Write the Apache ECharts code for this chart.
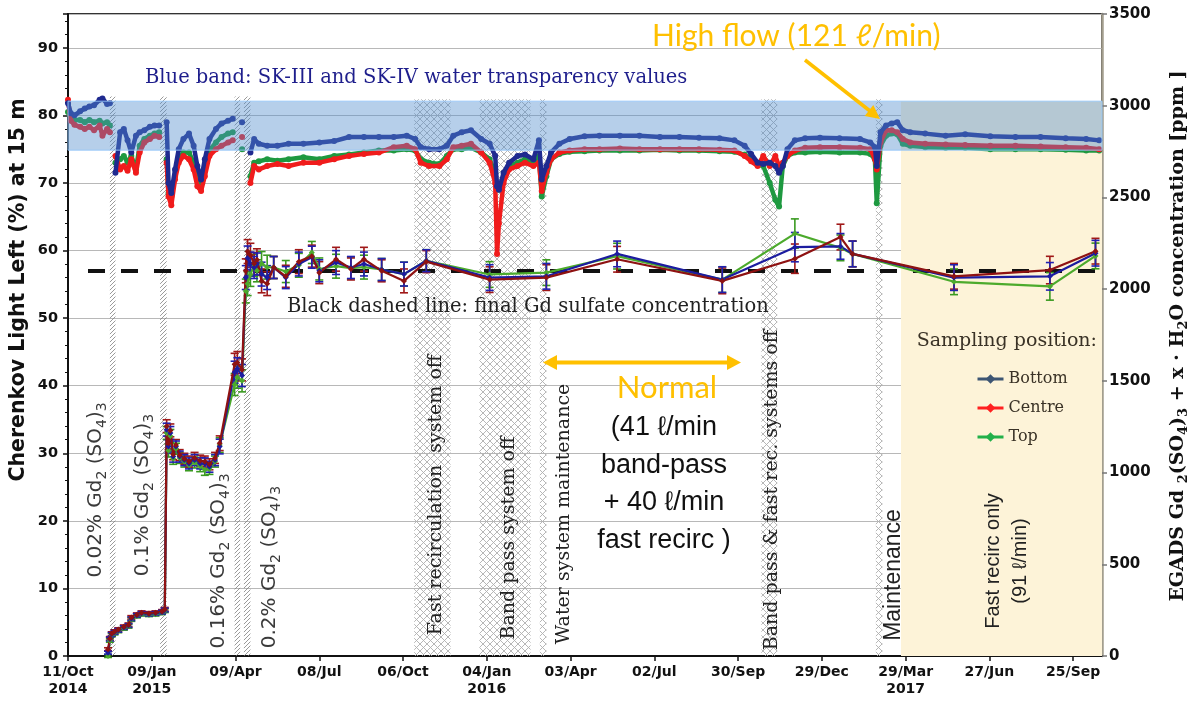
<!DOCTYPE html>
<html>
<head>
<meta charset="utf-8">
<script src="https://cdn.jsdelivr.net/npm/echarts@6/dist/echarts.min.js"></script>
<style>
  html, body { margin: 0; padding: 0; background: #ffffff; }
  #chart { width: 1194px; height: 702px; }
</style>
</head>
<body>
<div id="chart"></div>
<script>
// ---------------------------------------------------------------------------
// Data
// ---------------------------------------------------------------------------

// x axis: one tick every 90 days starting 11 Oct 2014
const xTickLabels = ['11/Oct\n2014', '09/Jan\n2015', '09/Apr', '08/Jul', '06/Oct', '04/Jan\n2016',
  '03/Apr', '02/Jul', '30/Sep', '29/Dec', '29/Mar\n2017', '27/Jun', '25/Sep'];

// EGADS Gd2(SO4)3 concentration samples [ppm]
const sampleDates = [
  '2014-11-23', '2014-11-25', '2014-11-27', '2014-11-30', '2014-12-04', '2014-12-10', '2014-12-15',
  '2014-12-18', '2014-12-24', '2014-12-29', '2015-01-06', '2015-01-13', '2015-01-20', '2015-01-23',
  '2015-01-25', '2015-01-27', '2015-01-29', '2015-02-01', '2015-02-04', '2015-02-08', '2015-02-13',
  '2015-02-18', '2015-02-24', '2015-03-02', '2015-03-07', '2015-03-12', '2015-03-18', '2015-03-23',
  '2015-04-08', '2015-04-11', '2015-04-16',
  '2015-04-20', '2015-04-22', '2015-04-25', '2015-04-29', '2015-05-02', '2015-05-07', '2015-05-13',
  '2015-05-20', '2015-06-02', '2015-06-16', '2015-06-30', '2015-07-08', '2015-07-26', '2015-08-11',
  '2015-08-25', '2015-09-13', '2015-10-07', '2015-10-31',
  '2016-01-07', '2016-03-08', '2016-05-23', '2016-09-13', '2016-11-30', '2017-01-18', '2017-01-31',
  '2017-05-20', '2017-08-31', '2017-10-19'];
const concBottom = [
  18, 92, 118, 129, 140, 155, 166, 203, 221, 232, 228, 232, 239, 251,
  1234, 1142, 1216, 1087, 1142, 1087, 1068, 1050, 1068, 1050, 1050, 1032, 1068, 1142,
  1547, 1566, 1529,
  2063, 2170, 2137, 2118, 2137, 2082, 2063, 2118, 2063, 2137, 2174, 2100, 2145, 2118, 2137, 2107, 2082, 2155,
  2063, 2070, 2192, 2052, 2229, 2233, 2192, 2063, 2070, 2196];
const concCentre = [
  37, 96, 122, 133, 144, 159, 170, 210, 225, 236, 232, 236, 243, 255,
  1253, 1160, 1230, 1100, 1150, 1095, 1075, 1060, 1080, 1065, 1060, 1045, 1080, 1160,
  1590, 1600, 1560,
  2100, 2205, 2185, 2140, 2160, 2045, 2030, 2118, 2070, 2150, 2180, 2090, 2163, 2110, 2163, 2100, 2045, 2150,
  2052, 2063, 2163, 2045, 2166, 2284, 2192, 2070, 2104, 2207];
const concTop = [
  0, 85, 114, 125, 137, 151, 162, 199, 218, 228, 225, 228, 236, 247,
  1216, 1120, 1200, 1075, 1130, 1080, 1060, 1040, 1055, 1035, 1015, 1020, 1060, 1150,
  1480, 1520, 1500,
  1990, 2030, 2080, 2130, 2100, 2140, 2120, 2118, 2096, 2130, 2200, 2110, 2125, 2115, 2120, 2107, 2082, 2155,
  2080, 2090, 2180, 2052, 2303, 2225, 2192, 2040, 2015, 2181];
const concError = [
  8, 10, 10, 10, 10, 10, 10, 10, 10, 10, 10, 10, 10, 10,
  35, 35, 35, 30, 30, 30, 30, 30, 30, 30, 30, 30, 30, 40,
  60, 60, 60,
  65, 65, 65, 60, 60, 65, 65, 60, 60, 65, 60, 60, 65, 60, 65, 60, 65, 60,
  70, 70, 70, 70, 80, 70, 70, 70, 75, 70];

// Cherenkov light left at 15 m [%] (null = no measurement, line is broken)
const transDates = [
  '2014-10-11', '2014-10-14', '2014-10-18', '2014-10-24', '2014-10-29', '2014-11-03', '2014-11-08',
  '2014-11-14', '2014-11-17', '2014-11-22', '2014-11-25',
  '2014-11-28',
  '2014-12-01', '2014-12-06', '2014-12-10', '2014-12-14', '2014-12-18', '2014-12-23', '2014-12-27',
  '2015-01-01', '2015-01-07', '2015-01-12', '2015-01-17',
  '2015-01-21',
  '2015-01-25', '2015-01-27', '2015-01-30', '2015-02-03', '2015-02-07', '2015-02-12', '2015-02-18',
  '2015-02-23', '2015-02-27', '2015-03-03', '2015-03-07', '2015-03-12', '2015-03-19', '2015-03-25',
  '2015-04-01', '2015-04-06',
  '2015-04-11',
  '2015-04-16',
  '2015-04-21',
  '2015-04-25', '2015-04-29', '2015-05-04', '2015-05-13', '2015-05-24', '2015-06-05', '2015-06-21',
  '2015-07-08', '2015-07-24', '2015-08-09', '2015-08-25', '2015-09-10', '2015-09-26', '2015-10-10',
  '2015-10-19', '2015-10-25', '2015-11-03', '2015-11-14', '2015-11-22', '2015-11-29', '2015-12-08',
  '2015-12-18', '2015-12-29',
  '2016-01-07', '2016-01-13', '2016-01-15', '2016-01-17', '2016-01-22', '2016-01-28', '2016-02-06',
  '2016-02-14', '2016-02-23', '2016-02-29', '2016-03-03', '2016-03-08', '2016-03-13', '2016-03-22',
  '2016-04-02', '2016-04-18', '2016-05-04', '2016-05-26', '2016-06-16', '2016-07-08', '2016-07-29',
  '2016-08-19', '2016-09-10', '2016-09-26', '2016-10-07', '2016-10-14', '2016-10-21', '2016-10-27',
  '2016-11-03', '2016-11-09', '2016-11-13', '2016-11-17', '2016-11-22', '2016-11-30', '2016-12-11',
  '2016-12-27',
  '2017-01-17', '2017-02-08', '2017-02-19', '2017-02-24', '2017-02-26', '2017-03-02', '2017-03-08',
  '2017-03-14', '2017-03-20', '2017-03-26', '2017-04-03', '2017-04-19', '2017-05-11', '2017-06-01',
  '2017-06-28', '2017-07-25', '2017-08-21', '2017-09-17', '2017-10-09', '2017-10-23'];
const transBottom = [
  81.8, 80.3, 80.0, 80.6, 81.0, 81.3, 81.5, 82.3, 82.5, 81.7, 81.8,
  null,
  71.5, 77.5, 78.0, 76.3, 74.5, 77.0, 77.5, 77.8, 78.3, 78.5, 78.5,
  null,
  79.0, 70.0, 68.5, 72.0, 75.0, 76.5, 77.3, 75.5, 72.5, 70.5, 73.5, 76.5, 78.0, 78.8, 79.2, 79.5,
  null,
  79.0,
  null,
  74.5, 76.5, 75.8, 75.5, 75.5, 75.8, 75.8, 76.0, 76.2, 76.8, 76.8, 76.8, 76.8, 77.0, 76.5, 75.3,
  75.0, 75.0, 75.5, 77.0, 77.5, 77.8, 76.5,
  75.8, 74.0, 69.5, 69.0, 71.5, 73.0, 74.0, 74.2, 73.5, 76.3, 70.5, 72.5, 74.5, 75.8, 76.5, 76.9,
  77.0, 77.0, 77.0, 76.8, 76.8, 76.7, 76.6, 76.3, 75.5, 74.3, 73.0, 72.8, 73.0, 72.5, 71.5, 72.5,
  75.0, 76.3, 76.6, 76.7,
  76.6, 76.5, 76.0, 75.3, 72.5, 77.5, 78.5, 78.8, 79.0, 77.8, 77.5, 77.3, 77.0, 77.2, 76.9, 76.8,
  76.8, 76.6, 76.5, 76.3];
const transCentre = [
  82.3, 79.2, 78.6, 78.3, 78.0, 78.3, 77.8, 78.5, 77.0, 78.0, 77.5,
  null,
  74.0, 72.0, 72.5, 71.8, 73.5, 71.5, 74.5, 76.0, 76.5, 77.0, 76.8,
  null,
  73.0, 68.0, 66.7, 70.5, 73.0, 74.0, 73.5, 72.0, 69.5, 68.8, 71.0, 74.0, 75.0, 75.5, 76.0, 76.3,
  null,
  76.8,
  null,
  70.0, 72.5, 72.0, 72.5, 72.8, 72.5, 73.0, 73.0, 73.5, 74.0, 74.3, 74.5, 75.3, 75.5, 75.0, 73.0,
  72.5, 72.5, 73.5, 75.3, 75.5, 75.8, 74.5,
  73.0, 70.0, 59.5, 64.0, 70.0, 72.0, 72.5, 73.0, 72.5, 73.0, 68.8, 71.5, 73.5, 74.5, 74.8, 75.0,
  75.0, 75.1, 75.0, 75.0, 75.0, 75.0, 74.9, 74.8, 74.0, 73.2, 72.5, 74.0, 72.5, 74.0, 72.5, 73.0,
  74.0, 74.8, 75.2, 75.3,
  75.3, 75.2, 75.0, 73.5, 72.0, 76.0, 77.8, 77.8, 77.5, 76.5, 76.0, 75.8, 75.7, 75.6, 75.5, 75.5,
  75.4, 75.3, 75.2, 75.0];
const transTop = [
  80.5, 79.6, 79.3, 79.3, 79.0, 79.3, 79.0, 79.2, 78.8, 79.0, 78.5,
  null,
  73.0, 73.5, 74.0, 73.0, 74.0, 72.0, 75.5, 76.5, 77.0, 77.3, 77.5,
  null,
  73.5, 68.5, 68.0, 71.0, 73.5, 74.5, 74.5, 73.0, 71.0, 70.0, 72.0, 74.8, 76.0, 76.8, 77.3, 77.5,
  null,
  75.0,
  null,
  71.0, 73.0, 73.2, 73.5, 73.3, 73.5, 73.8, 73.5, 74.0, 74.2, 74.5, 74.8, 74.8, 75.0, 74.8, 73.5,
  73.0, 72.8, 74.0, 75.0, 75.0, 75.2, 74.5,
  73.5, 71.5, 69.5, 69.0, 70.5, 72.5, 73.0, 73.5, 73.0, 74.0, 68.0, 71.0, 73.5, 74.3, 74.6, 74.7,
  74.8, 74.8, 74.8, 74.9, 74.8, 74.8, 74.7, 74.6, 74.2, 73.5, 72.8, 72.5, 70.0, 67.5, 66.5, 72.5,
  74.0, 74.5, 74.5, 74.6,
  74.5, 74.5, 74.3, 73.5, 67.0, 75.5, 77.0, 77.3, 77.2, 75.8, 75.5, 75.3, 75.2, 75.2, 75.0, 75.0,
  75.0, 74.9, 74.8, 74.8];

// SK-III / SK-IV transparency range [%] and final Gd sulfate concentration [ppm]
const bandRange = [74.85, 82.1];
const finalConcentration = 2100;

// Gd sulfate loading periods and system interruptions
const loadingPeriods = [['2014-11-25', '2014-12-01'], ['2015-01-18', '2015-01-25'],
  ['2015-04-08', '2015-04-14'], ['2015-04-18', '2015-04-25']];
const stopPeriods = [['2015-10-18', '2015-11-26'], ['2015-12-27', '2016-02-20'],
  ['2016-03-01', '2016-03-08'], ['2016-10-25', '2016-11-11'], ['2017-02-25', '2017-03-04']];
const fastRecircStart = '2017-03-24';

// ---------------------------------------------------------------------------
// Helpers
// ---------------------------------------------------------------------------
const DAY0 = Date.UTC(2014, 9, 11);
function dayOf(s) {
  const p = s.split('-').map(Number);
  return (Date.UTC(p[0], p[1] - 1, p[2]) - DAY0) / 86400000;
}
const X_MAX = 1111;

function makePattern(kind) {
  const c = document.createElement('canvas');
  const g = c.getContext('2d');
  if (kind === 'diag') {
    c.width = c.height = 4;
    g.strokeStyle = 'rgba(120,120,120,0.75)';
    g.lineWidth = 1;
    g.beginPath();
    g.moveTo(0, 4); g.lineTo(4, 0);
    g.moveTo(-1, 1); g.lineTo(1, -1);
    g.moveTo(3, 5); g.lineTo(5, 3);
    g.stroke();
  } else {
    c.width = c.height = 7;
    g.strokeStyle = 'rgba(175,175,175,0.9)';
    g.lineWidth = 1;
    g.beginPath();
    g.moveTo(0, 0); g.lineTo(7, 7);
    g.moveTo(0, 7); g.lineTo(7, 0);
    g.stroke();
  }
  return { image: c, repeat: 'repeat' };
}
const diagHatch = makePattern('diag');
const crossHatch = makePattern('cross');

const SERIF = 'DejaVu Serif';
const SANS = 'DejaVu Sans';

function transSeries(name, values, color, z) {
  return {
    name: name, type: 'line', yAxisIndex: 0, z: z, silent: true,
    data: transDates.map((d, i) => [dayOf(d), values[i]]),
    connectNulls: false,
    symbol: 'circle', symbolSize: 6, showSymbol: true,
    itemStyle: { color: color },
    lineStyle: { color: color, width: 4.5 }
  };
}

function concSeries(name, values, color) {
  return {
    name: name, type: 'line', yAxisIndex: 1, z: 7, silent: true,
    data: sampleDates.map((d, i) => [dayOf(d), values[i]]),
    symbol: 'diamond', symbolSize: 6, showSymbol: true,
    itemStyle: { color: color },
    lineStyle: { color: color, width: 2.2 }
  };
}

function errorSeries(name, values, color) {
  return {
    name: name, type: 'custom', yAxisIndex: 1, z: 6, silent: true,
    data: sampleDates.map((d, i) => [dayOf(d), values[i], concError[i]]),
    encode: { x: 0, y: 1 },
    renderItem: function (params, api) {
      const x = api.value(0), v = api.value(1), e = api.value(2);
      const hi = api.coord([x, v + e]);
      const lo = api.coord([x, v - e]);
      const w = 4;
      const st = { stroke: color, lineWidth: 1.6 };
      return {
        type: 'group', children: [
          { type: 'line', shape: { x1: hi[0], y1: hi[1], x2: lo[0], y2: lo[1] }, style: st },
          { type: 'line', shape: { x1: hi[0] - w, y1: hi[1], x2: hi[0] + w, y2: hi[1] }, style: st },
          { type: 'line', shape: { x1: lo[0] - w, y1: lo[1], x2: lo[0] + w, y2: lo[1] }, style: st }
        ]
      };
    }
  };
}

// text annotation helper (x, y = centre of the text block unless align given)
function note(x, y, text, st, extra) {
  const style = Object.assign({
    text: text, align: 'center', verticalAlign: 'middle',
    textAlign: 'center', textVerticalAlign: 'middle'
  }, st);
  if (style.align !== style.textAlign) style.textAlign = style.align;
  return Object.assign({ type: 'text', x: x, y: y, z: 50, silent: true, style: style }, extra || {});
}
function vnote(x, y, text, st) {
  return note(x, y, text, st, { rotation: Math.PI / 2 });
}
function subRich(size, family, color, weight) {
  return {
    s: { fontSize: size, fontFamily: family, fill: color, fontWeight: weight || 'normal',
         verticalAlign: 'bottom', lineHeight: size }
  };
}

const gdStyle = {
  fontFamily: SANS, fontSize: 20, fill: '#3a3a3a', lineHeight: 26,
  rich: subRich(14, SANS, '#3a3a3a')
};
const stopStyle = { fontFamily: SERIF, fontSize: 19, fill: '#222222' };
const ORANGE = '#ffc000';

// ---------------------------------------------------------------------------
// Chart
// ---------------------------------------------------------------------------
const chart = echarts.init(document.getElementById('chart'), null, { renderer: 'canvas' });

const periodAreas = [];
periodAreas.push([
  { xAxis: dayOf(fastRecircStart), yAxis: 0, itemStyle: { color: '#fdf3d8' } },
  { xAxis: X_MAX, yAxis: bandRange[1] }
]);
loadingPeriods.forEach(p => periodAreas.push([
  { xAxis: dayOf(p[0]), yAxis: 0, itemStyle: { color: diagHatch } },
  { xAxis: dayOf(p[1]), yAxis: 82.8 }
]));
stopPeriods.forEach(p => periodAreas.push([
  { xAxis: dayOf(p[0]), yAxis: 0, itemStyle: { color: crossHatch } },
  { xAxis: dayOf(p[1]), yAxis: 82.4 }
]));

const option = {
  animation: false,
  backgroundColor: '#ffffff',
  grid: {
    left: 68, right: 92, top: 14, bottom: 46,
    show: true, borderColor: '#333333', borderWidth: 2, backgroundColor: 'transparent',
    outerBoundsMode: 'none', containLabel: false
  },
  legend: {
    orient: 'vertical', left: 968, top: 366,
    padding: [5, 8, 5, 8], itemGap: 13, itemWidth: 26, itemHeight: 12,
    backgroundColor: '#fdf3d8',
    selectedMode: false,
    textStyle: { fontFamily: SERIF, fontSize: 16, color: '#3a3226' },
    data: [
      { name: 'Bottom', itemStyle: { color: '#3d5573' }, lineStyle: { color: '#3d5573', width: 3 } },
      { name: 'Centre', itemStyle: { color: '#ff2020' }, lineStyle: { color: '#ff2020', width: 3 } },
      { name: 'Top', itemStyle: { color: '#22b04a' }, lineStyle: { color: '#22b04a', width: 3 } }
    ]
  },
  xAxis: {
    type: 'value', min: 0, max: X_MAX, interval: 90,
    axisLine: { show: true, onZero: false, lineStyle: { color: '#111111', width: 2 } },
    axisTick: { show: true, length: 5, lineStyle: { color: '#111111', width: 1.5 } },
    splitLine: { show: false },
    axisLabel: {
      formatter: v => (v % 90 === 0 ? xTickLabels[v / 90] : ''),
      fontFamily: SANS, fontWeight: 'bold', fontSize: 14, color: '#111111',
      margin: 8, lineHeight: 17, showMaxLabel: false
    }
  },
  yAxis: [
    {
      type: 'value', position: 'left', min: 0, max: 95, interval: 10,
      axisLine: { show: true, onZero: false, lineStyle: { color: '#111111', width: 2 } },
      axisTick: { show: true, length: 5, lineStyle: { color: '#111111', width: 1.5 } },
      minorTick: { show: true, splitNumber: 5, length: 3, lineStyle: { color: '#111111', width: 1 } },
      splitLine: { show: true, lineStyle: { color: '#b8b8b8', width: 1.2 } },
      axisLabel: {
        formatter: v => (v > 90 ? '' : String(v)),
        fontFamily: SANS, fontWeight: 'bold', fontSize: 14.5, color: '#111111', margin: 10
      }
    },
    {
      type: 'value', position: 'right', min: 0, max: 3500, interval: 500,
      axisLine: { show: true, onZero: false, lineStyle: { color: '#a39e8e', width: 2.5 } },
      axisTick: { show: true, length: 5, lineStyle: { color: '#777777', width: 1.5 } },
      splitLine: { show: false },
      axisLabel: {
        formatter: v => String(v),
        fontFamily: SANS, fontWeight: 'bold', fontSize: 15, color: '#111111', margin: 7
      }
    }
  ],
  series: [
    {
      name: 'periods', type: 'line', data: [], yAxisIndex: 0, silent: true,
      markArea: { silent: true, z: 1, label: { show: false }, data: periodAreas }
    },
    transSeries('Top transparency', transTop, '#1e9940', 3),
    transSeries('Centre transparency', transCentre, '#f01c1c', 3.1),
    transSeries('Bottom transparency', transBottom, '#1f2a8f', 3.2),
    {
      name: 'band', type: 'line', data: [], yAxisIndex: 0, silent: true,
      markArea: {
        silent: true, z: 8, label: { show: false },
        itemStyle: { color: 'rgba(80,140,205,0.42)', borderColor: 'rgba(150,200,250,0.9)', borderWidth: 1 },
        data: [[{ yAxis: bandRange[0] }, { yAxis: bandRange[1] }]]
      }
    },
    {
      name: 'final', type: 'line', data: [], yAxisIndex: 1, silent: true,
      markLine: {
        silent: true, z: 5, symbol: ['none', 'none'], label: { show: false },
        lineStyle: { color: '#111111', width: 4, type: [17, 16] },
        data: [[{ coord: [21.5, finalConcentration] }, { coord: [X_MAX, finalConcentration] }]]
      }
    },
    errorSeries('Top error', concTop, '#3a9a20'),
    errorSeries('Centre error', concCentre, '#a01818'),
    errorSeries('Bottom error', concBottom, '#2020b0'),
    concSeries('Top', concTop, '#4caa2c'),
    concSeries('Bottom', concBottom, '#1c1ca0'),
    concSeries('Centre', concCentre, '#8e1212')
  ],
  graphic: {
    elements: [
      // axis titles
      vnote(19, 290, 'Cherenkov Light Left (%) at 15 m',
        { fontFamily: SANS, fontWeight: 'bold', fontSize: 20.5, fill: '#111111' }),
      vnote(1178, 336, 'EGADS Gd {s|2}(SO{s|4}){s|3} + x · H{s|2}O concentration [ppm ]',
        { fontFamily: SERIF, fontWeight: 'bold', fontSize: 19, fill: '#111111', lineHeight: 24,
          rich: subRich(13, SERIF, '#111111', 'bold') }),

      // band and reference line captions
      note(145, 78, 'Blue band: SK-III and SK-IV water transparency values',
        { align: 'left', fontFamily: SERIF, fontSize: 19.5, fill: '#1e1e8c' }),
      note(287, 307, 'Black dashed line: final Gd sulfate concentration',
        { align: 'left', fontFamily: SERIF, fontSize: 19.5, fill: '#222222' }),
      note(1097, 341, 'Sampling position:',
        { align: 'right', fontFamily: SERIF, fontSize: 19, fill: '#3a3226' }),

      // loading steps
      vnote(96, 490, '0.02% Gd{s|2} (SO{s|4}){s|3}', gdStyle),
      vnote(143, 495, '0.1% Gd{s|2} (SO{s|4}){s|3}', gdStyle),
      vnote(219, 561, '0.16% Gd{s|2} (SO{s|4}){s|3}', gdStyle),
      vnote(270, 567, '0.2% Gd{s|2} (SO{s|4}){s|3}', gdStyle),

      // system interruptions
      vnote(436, 495, 'Fast recirculation  system off', stopStyle),
      vnote(509, 538, 'Band pass system off', stopStyle),
      vnote(564, 514, 'Water system maintenance', stopStyle),
      vnote(772, 490, 'Band pass & fast rec. systems off', stopStyle),
      vnote(894, 575, 'Maintenance', { fontFamily: 'Liberation Sans', fontSize: 23, fill: '#222222' }),
      vnote(1007, 561, 'Fast recirc only\n(91 ℓ/min)',
        { fontFamily: 'Liberation Sans', fontSize: 20, fill: '#222222', lineHeight: 27 }),

      // flow annotations
      note(652, 36, 'High flow (121 ℓ/min)',
        { align: 'left', fontFamily: 'Lato', fontSize: 30, fill: ORANGE }),
      { type: 'line', z: 50, silent: true, shape: { x1: 805, y1: 60, x2: 870, y2: 111 },
        style: { stroke: ORANGE, lineWidth: 3.5 } },
      { type: 'polygon', z: 50, silent: true,
        shape: { points: [[880, 119], [864.7, 115.9], [873.3, 104.9]] }, style: { fill: ORANGE } },

      { type: 'line', z: 50, silent: true, shape: { x1: 554, y1: 362.5, x2: 730, y2: 362.5 },
        style: { stroke: ORANGE, lineWidth: 4 } },
      { type: 'polygon', z: 50, silent: true,
        shape: { points: [[543, 362.5], [557, 355], [557, 370]] }, style: { fill: ORANGE } },
      { type: 'polygon', z: 50, silent: true,
        shape: { points: [[741, 362.5], [727, 355], [727, 370]] }, style: { fill: ORANGE } },
      note(667, 388, 'Normal', { fontFamily: 'Lato', fontSize: 31, fill: ORANGE }),
      note(664, 484, '(41 ℓ/min\nband-pass\n+ 40 ℓ/min\nfast recirc )',
        { fontFamily: 'Liberation Sans', fontSize: 27, fill: '#111111', lineHeight: 37.5 })
    ]
  }
};

chart.setOption(option);
</script>
</body>
</html>
